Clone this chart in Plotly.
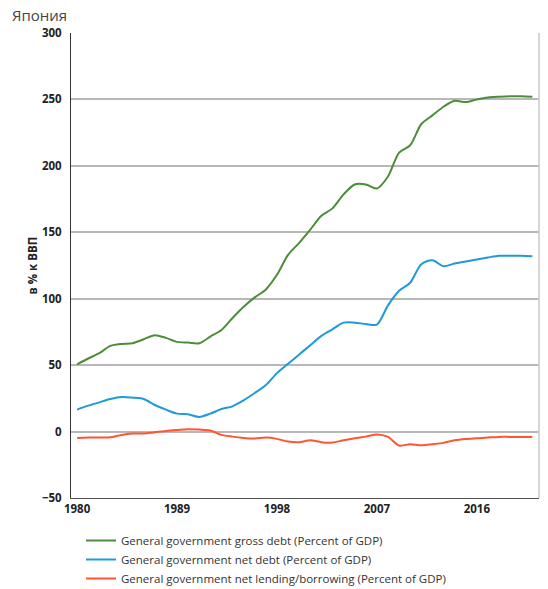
import plotly.graph_objects as go

years = list(range(1980, 2022))

gross_debt = [50.6, 55.0, 59.0, 64.5, 66.0, 66.5, 69.5, 72.5, 70.5, 67.5,
              67.0, 66.5, 71.5, 76.5, 85.5, 94.0, 101.0, 107.0, 118.0, 133.0,
              142.0, 152.0, 162.5, 168.0, 178.5, 186.0, 186.0, 183.0, 192.0, 210.0,
              215.5, 231.5, 238.0, 244.5, 249.0, 248.0, 250.0, 251.5, 252.0, 252.3,
              252.3, 252.0]

net_debt = [16.5, 19.5, 22.0, 24.5, 26.0, 25.5, 24.5, 20.0, 16.5, 13.5,
            13.0, 11.0, 13.5, 17.0, 19.0, 23.5, 29.0, 35.0, 44.0, 51.0,
            58.0, 65.0, 72.0, 77.0, 82.0, 82.0, 81.0, 80.5, 95.0, 106.0,
            112.0, 126.0, 129.0, 124.5, 126.5, 128.0, 129.5, 131.0, 132.3, 132.3,
            132.3, 132.0]

net_lending = [-4.8, -4.5, -4.5, -4.3, -2.5, -1.5, -1.5, -0.5, 0.5, 1.2,
               1.8, 1.5, 0.8, -2.5, -3.8, -4.8, -5.2, -4.5, -5.5, -7.5,
               -8.0, -6.5, -8.0, -8.3, -6.5, -5.0, -3.8, -2.2, -4.0, -10.5,
               -9.5, -10.3, -9.5, -8.5, -6.5, -5.5, -5.0, -4.5, -4.0, -4.0,
               -4.0, -4.0]

names = ["General government gross debt (Percent of GDP)",
         "General government net debt (Percent of GDP)",
         "General government net lending/borrowing (Percent of GDP)"]
colors = ["#4C8C3A", "#1E9ADA", "#FF5533"]
x_ticks = [1980, 1989, 1998, 2007, 2016]
y_ticks = [-50, 0, 50, 100, 150, 200, 250, 300]

# page body has an 8px margin, so the figure is 8px smaller than the window
W, H = 540, 581
L, T, R, B = 63, 25, 9, 91
PW, PH = W - L - R, H - T - B

fig = go.Figure()
for vals, name, col in zip([gross_debt, net_debt, net_lending], names, colors):
    fig.add_trace(go.Scatter(x=years, y=vals, name=name, mode="lines",
                             line=dict(color=col, width=2, shape="spline", smoothing=0.8)))

fig.update_layout(
    width=W, height=H,
    margin=dict(l=L, r=R, t=T, b=B, autoexpand=False),
    paper_bgcolor="white", plot_bgcolor="white",
    font=dict(family="Open Sans, Segoe UI, sans-serif", color="#222"),
    showlegend=True,
    legend=dict(x=73 / W, y=1 - 518 / H, xref="container", yref="container",
                xanchor="left", yanchor="top",
                font=dict(size=11.5, color="#333"), itemwidth=30,
                tracegroupgap=0, bgcolor="rgba(0,0,0,0)"),
)
fig.add_annotation(text="Япония", xref="paper", yref="paper",
                   x=(-L + 2) / PW, y=1 + (T - 7) / PH, xanchor="left", yanchor="middle",
                   showarrow=False, font=dict(size=15, color="#444"))
fig.add_annotation(text="в % к ВВП", xref="paper", yref="paper", textangle=-90,
                   x=(24 - L) / PW, y=0.5, xanchor="center", yanchor="middle",
                   showarrow=False, font=dict(size=11.5, weight="bold", color="#222"))

fig.update_xaxes(range=[1979.45, 2021.6], tickvals=x_ticks,
                 ticktext=[str(v) for v in x_ticks],
                 showgrid=False, zeroline=False,
                 showline=True, linecolor="#555", linewidth=1,
                 ticks="", tickfont=dict(size=11.5, weight="bold", color="#222"))
fig.update_yaxes(range=[-50, 300], tickvals=y_ticks,
                 showgrid=True, gridcolor="#B8B8B8", gridwidth=1.5,
                 zeroline=False,
                 showline=True, linecolor="#333", linewidth=1,
                 ticks="", ticklabelstandoff=6,
                 tickfont=dict(size=11.5, weight="bold", color="#222"))
fig.add_shape(type="line", xref="paper", yref="paper", x0=1, x1=1, y0=0, y1=1,
              line=dict(color="#C8C8C8", width=1.5))

fig.write_html("out.html")
